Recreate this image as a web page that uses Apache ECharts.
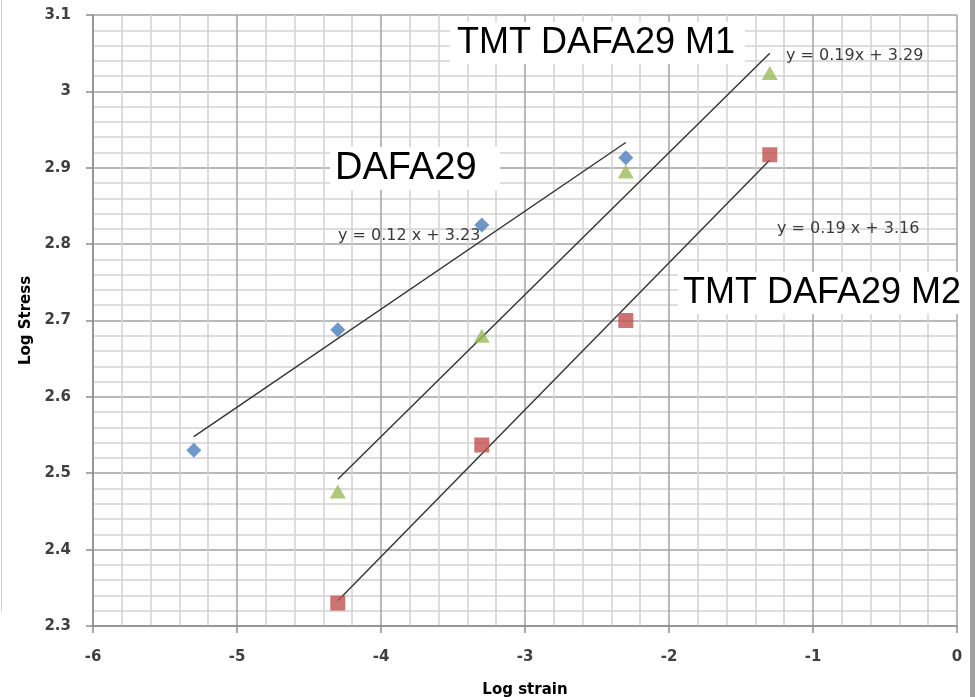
<!DOCTYPE html>
<html>
<head>
<meta charset="utf-8">
<script src="https://cdn.jsdelivr.net/npm/echarts@6/dist/echarts.min.js"></script>
<style>
  html, body { margin: 0; padding: 0; background: #fff; }
  #chart { width: 975px; height: 697px; }
</style>
</head>
<body>
<div id="chart"></div>
<script>
// Log strain / log stress measurements for the three materials
const strainDAFA29 = [-5.3, -4.3, -3.3, -2.3];
const stressDAFA29 = [2.53, 2.688, 2.825, 2.913];

const strainM1 = [-4.3, -3.3, -2.3, -1.3];
const stressM1 = [2.476, 2.68, 2.895, 3.024];

const strainM2 = [-4.3, -3.3, -2.3, -1.3];
const stressM2 = [2.33, 2.537, 2.70, 2.917];

// Linear trendline end points (log strain, log stress)
const trendStrainDAFA29 = [-5.3, -2.3];
const trendStressDAFA29 = [2.548, 2.933];
const trendStrainM1 = [-4.3, -1.3];
const trendStressM1 = [2.492, 3.050];
const trendStrainM2 = [-4.3, -1.3];
const trendStressM2 = [2.333, 2.910];

// Axis tick labels
const xTickLabels = ['-6', '-5', '-4', '-3', '-2', '-1', '0'];
const yTickLabels = ['2.3', '2.4', '2.5', '2.6', '2.7', '2.8', '2.9', '3', '3.1'];

// Series names and trendline equations
const seriesNames = ['DAFA29', 'TMT DAFA29 M1', 'TMT DAFA29 M2'];
const equations = ['y = 0.12 x + 3.23', 'y = 0.19x + 3.29', 'y = 0.19 x + 3.16'];

const zip = (xs, ys) => xs.map((x, i) => [x, ys[i]]);

const axisFont = { fontFamily: 'DejaVu Sans', fontWeight: 'bold', fontSize: 15 };
const gridMajor = { color: '#a2a2a2', width: 1.5 };
const gridMinor = { color: '#d2d2d2', width: 1.5 };
const trendStyle = { color: '#333333', width: 1.4 };

const chart = echarts.init(document.getElementById('chart'), null, { renderer: 'canvas' });

const bigLabel = (text, x, y, size) => ({
  type: 'text', x: x, y: y, z: 20,
  style: {
    text: text, fill: '#000', fontFamily: 'Liberation Sans', fontSize: size,
    align: 'left', verticalAlign: 'middle', textAlign: 'left', textVerticalAlign: 'middle'
  }
});
const eqLabel = (text, x, y) => ({
  type: 'text', x: x, y: y, z: 20,
  style: {
    text: text, fill: '#3a3a3a', fontFamily: 'DejaVu Sans', fontSize: 16,
    align: 'left', verticalAlign: 'middle', textAlign: 'left', textVerticalAlign: 'middle'
  }
});
const whiteBox = (x, y, w, h) => ({
  type: 'rect', z: 15, shape: { x: x, y: y, width: w, height: h }, style: { fill: '#fff' }
});

chart.setOption({
  animation: false,
  backgroundColor: '#fff',
  grid: { left: 93, right: 18, top: 15, bottom: 71, containLabel: false, outerBoundsMode: 'none' },
  xAxis: {
    type: 'value', min: -6, max: 0, interval: 1,
    name: 'Log strain', nameLocation: 'middle', nameGap: 57,
    nameTextStyle: Object.assign({ color: '#000' }, axisFont),
    axisLine: { onZero: false, lineStyle: { color: '#8c8c8c', width: 1.5 } },
    axisTick: { show: true, length: 7, lineStyle: { color: '#8c8c8c', width: 1.5 } },
    axisLabel: Object.assign({
      margin: 24, color: '#404040',
      formatter: v => xTickLabels[Math.round(v + 6)]
    }, axisFont),
    splitLine: { show: true, lineStyle: gridMajor },
    minorTick: { show: false, splitNumber: 5 },
    minorSplitLine: { show: true, lineStyle: gridMinor }
  },
  yAxis: {
    type: 'value', min: 2.3, max: 3.1, interval: 0.1,
    name: 'Log Stress', nameLocation: 'middle', nameGap: 56, nameRotate: 90,
    nameTextStyle: Object.assign({ color: '#000' }, axisFont),
    axisLine: { show: true, onZero: false, lineStyle: { color: '#8c8c8c', width: 1.5 } },
    axisTick: { show: true, length: 7, lineStyle: { color: '#8c8c8c', width: 1.5 } },
    axisLabel: Object.assign({
      margin: 22, color: '#404040',
      formatter: v => yTickLabels[Math.round((v - 2.3) * 10)]
    }, axisFont),
    splitLine: { show: true, lineStyle: gridMajor },
    minorTick: { show: false, splitNumber: 5 },
    minorSplitLine: { show: true, lineStyle: gridMinor }
  },
  series: [
    { type: 'line', name: seriesNames[0] + ' trend', data: zip(trendStrainDAFA29, trendStressDAFA29),
      showSymbol: false, symbol: 'none', z: 3, lineStyle: trendStyle },
    { type: 'line', name: seriesNames[1] + ' trend', data: zip(trendStrainM1, trendStressM1),
      showSymbol: false, symbol: 'none', z: 3, lineStyle: trendStyle },
    { type: 'line', name: seriesNames[2] + ' trend', data: zip(trendStrainM2, trendStressM2),
      showSymbol: false, symbol: 'none', z: 3, lineStyle: trendStyle },
    { type: 'scatter', name: seriesNames[0], data: zip(strainDAFA29, stressDAFA29),
      symbol: 'diamond', symbolSize: [15, 15], z: 5, itemStyle: { color: '#4a7ebb' } },
    { type: 'scatter', name: seriesNames[1], data: zip(strainM1, stressM1),
      symbol: 'triangle', symbolSize: [16, 14], z: 5, itemStyle: { color: '#9bbb59' } },
    { type: 'scatter', name: seriesNames[2], data: zip(strainM2, stressM2),
      symbol: 'rect', symbolSize: 15, z: 5, itemStyle: { color: '#c0504d' } }
  ],
  graphic: [
    // page edges
    { type: 'line', z: 1, shape: { x1: 1.5, y1: 0, x2: 1.5, y2: 612 }, style: { stroke: '#d0d0d0', lineWidth: 1 } },
    { type: 'rect', z: 30, shape: { x: 970, y: 0, width: 5, height: 697 }, style: { fill: '#a0a0a0' } },
    // series name labels on white boxes
    whiteBox(450, 22, 295, 42),
    bigLabel(seriesNames[1], 457, 43, 36),
    whiteBox(330, 147, 170, 43),
    bigLabel(seriesNames[0], 335, 169, 38),
    whiteBox(678, 272, 284, 42),
    bigLabel(seriesNames[2], 683, 293, 36),
    // trendline equations
    eqLabel(equations[0], 338, 236),
    eqLabel(equations[1], 786, 56),
    eqLabel(equations[2], 777, 229)
  ]
});
</script>
</body>
</html>
